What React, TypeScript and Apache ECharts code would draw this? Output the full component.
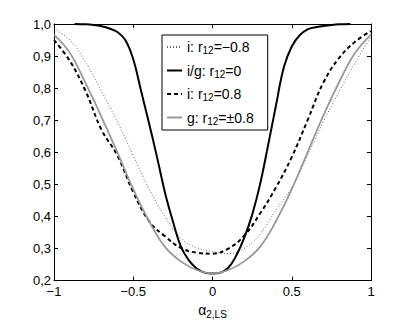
import React, { useEffect, useRef } from 'react';
import * as echarts from 'echarts';

const alphaGrid = [-1, -0.9, -0.8, -0.7, -0.6, -0.5, -0.4, -0.3, -0.2, -0.1, 0, 0.1, 0.2, 0.3, 0.4, 0.5, 0.6, 0.7, 0.8, 0.9, 1];
const blackGrid = [-0.87, -0.8, -0.75, -0.7, -0.65, -0.6, -0.55, -0.5, -0.45, -0.4, -0.35, -0.3, -0.25, -0.2, -0.15, -0.1, -0.05, 0, 0.05, 0.1, 0.15, 0.2, 0.25, 0.3, 0.35, 0.4, 0.45, 0.5, 0.55, 0.6, 0.65, 0.7, 0.75, 0.8, 0.87];

const seriesNames = ['i: r12=−0.8', 'i/g: r12=0', 'i: r12=0.8', 'g: r12=±0.8'];

const dottedVals = [0.985, 0.95, 0.88, 0.79, 0.695, 0.59, 0.485, 0.40, 0.332, 0.303, 0.29, 0.284, 0.30, 0.345, 0.42, 0.49, 0.59, 0.696, 0.79, 0.88, 0.96];
const solidVals = [1.0, 0.999, 0.997, 0.993, 0.986, 0.975, 0.95, 0.89, 0.79, 0.69, 0.585, 0.475, 0.385, 0.307, 0.264, 0.238, 0.225, 0.222, 0.225, 0.24, 0.278, 0.333, 0.405, 0.5, 0.62, 0.745, 0.865, 0.93, 0.965, 0.983, 0.99, 0.994, 0.997, 0.999, 1.0];
const dashedVals = [0.95, 0.885, 0.79, 0.67, 0.59, 0.476, 0.385, 0.338, 0.302, 0.287, 0.284, 0.3, 0.34, 0.409, 0.49, 0.585, 0.7, 0.818, 0.895, 0.945, 0.978];
const grayVals = [0.967, 0.91, 0.815, 0.71, 0.6, 0.485, 0.385, 0.305, 0.26, 0.233, 0.222, 0.233, 0.26, 0.305, 0.385, 0.485, 0.6, 0.715, 0.82, 0.91, 0.967];

const xTickLabels = ['−1', '−0.5', '0', '0.5', '1'];
const yTickLabels = ['0,2', '0,3', '0,4', '0,5', '0,6', '0,7', '0,8', '0,9', '1,0'];

const pairs = (xs: number[], ys: number[]) => xs.map((x, i) => [x, ys[i]]);

const FONT = 'Liberation Sans';

export default function App() {
  const ref = useRef<HTMLDivElement>(null);
  useEffect(() => {
    const chart = echarts.init(ref.current!, null, { renderer: 'svg' });
    const axisLine = { show: true, onZero: false, lineStyle: { color: '#000', width: 1 } };
    const axisTick = { show: true, inside: true, length: 4, lineStyle: { color: '#000', width: 1 } };
    chart.setOption({
      animation: false,
      backgroundColor: '#fff',
      grid: { left: 54, right: 38, top: 24, bottom: 37, containLabel: false },
      xAxis: [
        {
          type: 'value', min: -1, max: 1, interval: 0.5, position: 'bottom',
          axisLine, axisTick, splitLine: { show: false },
          axisLabel: {
            color: '#000', fontFamily: FONT, fontSize: 13, margin: 4,
            formatter: (v: number) => xTickLabels[Math.round((v + 1) / 0.5)] ?? '',
          },
          name: '{a|α}{s|2,LS}', nameLocation: 'middle', nameGap: 18,
          nameTextStyle: {
            color: '#000',
            rich: {
              a: { fontFamily: FONT, fontSize: 14, color: '#000' },
              s: { fontFamily: FONT, fontSize: 10, color: '#000', padding: [9, 0, 0, 0] },
            },
          },
        },
        {
          type: 'value', min: -1, max: 1, interval: 0.5, position: 'top',
          axisLine, axisTick, splitLine: { show: false }, axisLabel: { show: false },
        },
      ],
      yAxis: [
        {
          type: 'value', min: 0.2, max: 1, interval: 0.1, position: 'left',
          axisLine, axisTick, splitLine: { show: false },
          axisLabel: {
            color: '#000', fontFamily: FONT, fontSize: 13, margin: 3,
            formatter: (v: number) => yTickLabels[Math.round((v - 0.2) / 0.1)] ?? '',
          },
        },
        {
          type: 'value', min: 0.2, max: 1, interval: 0.1, position: 'right',
          axisLine, axisTick, splitLine: { show: false }, axisLabel: { show: false },
        },
      ],
      legend: {
        orient: 'vertical', left: 162, top: 35, z: 10,
        itemWidth: 15, itemHeight: 12, itemGap: 8,
        backgroundColor: '#fff', borderColor: '#000', borderWidth: 1, borderRadius: 0,
        padding: [5, 14, 4, 4],
        itemStyle: { opacity: 0 },
        data: seriesNames,
        formatter: (name: string) => name.replace('r12', 'r{sub|12}'),
        textStyle: {
          fontFamily: FONT, fontSize: 14, color: '#000',
          rich: { sub: { fontFamily: FONT, fontSize: 10, color: '#000', padding: [7, 0, 0, 0] } },
        },
      },
      series: [
        {
          name: seriesNames[0], type: 'line', smooth: 0.4, symbol: 'none',
          data: pairs(alphaGrid, dottedVals),
          lineStyle: { color: '#666', width: 1, type: [1, 2] },
          itemStyle: { color: '#666' },
        },
        {
          name: seriesNames[1], type: 'line', smooth: 0.4, symbol: 'none',
          data: pairs(blackGrid, solidVals),
          lineStyle: { color: '#000', width: 2, type: 'solid' },
          itemStyle: { color: '#000' },
        },
        {
          name: seriesNames[2], type: 'line', smooth: 0.4, symbol: 'none',
          data: pairs(alphaGrid, dashedVals),
          lineStyle: { color: '#000', width: 2, type: [4, 3] },
          itemStyle: { color: '#000' },
        },
        {
          name: seriesNames[3], type: 'line', smooth: 0.4, symbol: 'none',
          data: pairs(alphaGrid, grayVals),
          lineStyle: { color: '#999', width: 1.8, type: 'solid' },
          itemStyle: { color: '#999' },
        },
      ],
    });
    return () => chart.dispose();
  }, []);
  return <div ref={ref} style={{ position: 'absolute', left: 0, top: 0, width: 409, height: 324 }} />;
}
